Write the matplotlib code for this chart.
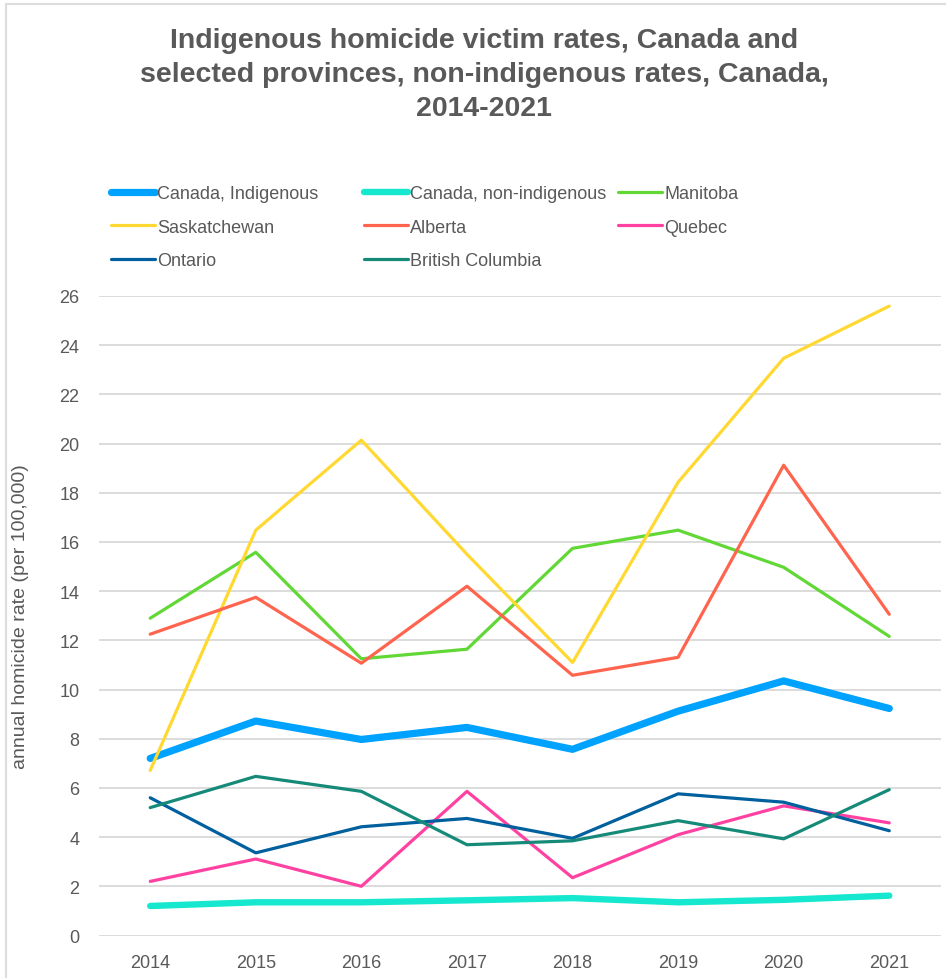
import matplotlib.pyplot as plt
from matplotlib.patches import Rectangle

plt.rcParams["font.family"] = ["Liberation Sans", "DejaVu Sans"]

years = ["2014", "2015", "2016", "2017", "2018", "2019", "2020", "2021"]

canada_indigenous = [7.2, 8.72, 7.97, 8.46, 7.57, 9.12, 10.35, 9.23]
canada_non_indigenous = [1.2, 1.35, 1.35, 1.43, 1.52, 1.35, 1.45, 1.62]
manitoba = [12.9, 15.58, 11.25, 11.64, 15.74, 16.48, 14.97, 12.16]
saskatchewan = [6.71, 16.48, 20.14, 15.5, 11.1, 18.43, 23.47, 25.59]
alberta = [12.25, 13.75, 11.07, 14.2, 10.58, 11.31, 19.12, 13.06]
quebec = [2.2, 3.11, 2.0, 5.86, 2.35, 4.1, 5.27, 4.58]
ontario = [5.6, 3.36, 4.42, 4.76, 3.95, 5.76, 5.42, 4.26]
british_columbia = [5.2, 6.47, 5.86, 3.69, 3.85, 4.67, 3.93, 5.93]

series = [
    ("Canada, Indigenous", canada_indigenous, "#00A2FF", 5.2),
    ("Canada, non-indigenous", canada_non_indigenous, "#16E7CF", 4.6),
    ("Manitoba", manitoba, "#61D836", 2.3),
    ("Saskatchewan", saskatchewan, "#FFD932", 2.3),
    ("Alberta", alberta, "#FF644E", 2.3),
    ("Quebec", quebec, "#FF42A1", 2.3),
    ("Ontario", ontario, "#00609E", 2.3),
    ("British Columbia", british_columbia, "#168A78", 2.3),
]

TEXT = "#595959"

fig = plt.figure(figsize=(9.46, 9.79), dpi=100)
# light frame round the chart; only its top and left edges fall inside the image
fig.patches.append(Rectangle((6, -50), 1100, 1024, transform=None, fill=False,
                             edgecolor="#DDDDDD", linewidth=1.5))
ax = fig.add_axes([99 / 946, 1 - 936.5 / 979, 842 / 946, 639.5 / 979])

x = list(range(len(years)))
handles = {}
for name, vals, color, lw in series:
    (ln,) = ax.plot(x, vals, color=color, linewidth=lw, solid_capstyle="round",
                    solid_joinstyle="round", label=name, clip_on=False)
    handles[name] = ln

ax.set_xlim(-0.485, 7.49)
ax.set_ylim(0, 26)
ax.set_yticks(range(0, 27, 2))
ax.set_xticks(x)
ax.set_xticklabels(years)
ax.grid(axis="y", color="#D9D9D9", linewidth=1.3)
ax.set_axisbelow(True)
for s in ax.spines.values():
    s.set_visible(False)
ax.tick_params(length=0, labelsize=13, labelcolor=TEXT, pad=14)
ax.tick_params(axis="x", pad=13)
ax.set_ylabel("annual homicide rate (per 100,000)", fontsize=14, color=TEXT)
ax.yaxis.set_label_coords(-0.083, 0.5)

fig.text(484 / 946, 1 - 75 / 979,
         "Indigenous homicide victim rates, Canada and\n"
         "selected provinces, non-indigenous rates, Canada,\n"
         "2014-2021",
         ha="center", va="center", fontsize=20.5, fontweight="bold", color=TEXT,
         linespacing=1.42)

# legend laid out as three columns, row-major order like the original
columns = [
    (["Canada, Indigenous", "Saskatchewan", "Ontario"], 111),
    (["Canada, non-indigenous", "Alberta", "British Columbia"], 364),
    (["Manitoba", "Quebec"], 618),
]
for names, xpix in columns:
    fig.legend([handles[n] for n in names], names, loc="upper left",
               bbox_to_anchor=(xpix / 946, 1 - 186 / 979), frameon=False,
               fontsize=13, handlelength=2.45, handletextpad=0.12,
               labelspacing=0.92, borderpad=0, borderaxespad=0,
               labelcolor=TEXT)

fig.savefig("out.png", dpi=100)
